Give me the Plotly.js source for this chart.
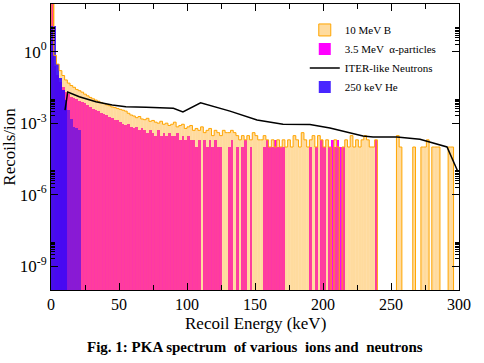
<!DOCTYPE html>
<html><head><meta charset="utf-8">
<script src="https://cdn.plot.ly/plotly-3.0.1.min.js"></script>
<style>html,body{margin:0;padding:0;background:#fff}#chart{width:484px;height:363px}</style>
</head><body><div id="chart"></div>
<script>
// Histogram bin width (keV); bins start at 0 keV
const binWidth = 2;

// 10 MeV B recoils per ion (bins 0-2, 2-4, ... 298-300 keV)
const boronValues = [
  300, 0.70, 0.30, 0.16, 0.10, 0.065, 0.048, 0.038, 0.032, 0.026,
  0.023, 0.020, 0.0165, 0.014, 0.012, 0.0105, 0.0093, 0.0083, 0.0074, 0.0066,
  0.0059, 0.0054, 0.0048, 0.0045, 0.0041, 0.0038, 0.0035, 0.0032, 0.0026, 0.0022,
  0.0020, 0.0017, 0.0019, 0.0015, 0.0014, 0.0016, 0.0012, 0.0013, 0.0011, 0.0010,
  0.0012, 0.0009, 0.0010, 0.0008, 0.0009, 0.0011, 0.0007, 0.0008, 0.0009, 0.0006,
  7e-4, 8e-4, 5e-4, 6e-4, 5e-4, 7e-4, 4e-4, 5e-4, 6e-4, 3e-4,
  5e-4, 4e-4, 3e-4, 5e-4, 4e-4, 4e-4, 5e-4, 4e-4, 3e-4, 2e-4,
  3e-4, 2e-4, 3e-4, 2e-4, 4e-4, 3e-4, 2e-4, 2e-4, 3e-4, 2e-4,
  1e-4, 2e-4, 1e-4, 2e-4, 1e-4, 2e-4, 1e-4, 2e-4, 1e-4, 3e-4,
  2e-4, 1e-4, 4e-4, 2e-4, 1e-4, 2e-4, 3e-4, 1e-4, 3e-4, 2e-4,
  1e-4, 2e-4, 1e-4, 0, 2e-4, 1e-4, 0, 1e-4, 2e-4, 1e-4,
  3e-4, 1e-4, 2e-4, 1e-4, 2e-4, 3e-4, 2e-4, 1e-4, 1e-4, 2e-4,
  0, 0, 0, 0, 0, 0, 0, 3e-4, 1e-4, 0,
  0, 0, 0, 1e-4, 0, 0, 1e-4, 1e-4, 2e-4, 0,
  1e-4, 1e-4, 1e-4, 0, 0, 0, 1e-4, 1e-4, 0, 0
];

// 3.5 MeV alpha-particle recoils per ion (bins 0-2 ... 238-240 keV)
const alphaValues = [
  200, 0.25, 0.11, 0.056, 0.032, 0.020, 0.016, 0.013, 0.011, 0.010,
  0.0089, 0.0079, 0.0068, 0.0056, 0.0048, 0.0040, 0.0035, 0.0032, 0.0028, 0.0025,
  0.0022, 0.0019, 0.0016, 0.0014, 0.0013, 0.0011, 9e-4, 8e-4, 9e-4, 7e-4,
  6e-4, 7e-4, 5e-4, 6e-4, 5e-4, 4e-4, 5e-4, 4e-4, 3e-4, 5e-4,
  3e-4, 4e-4, 3e-4, 4e-4, 3e-4, 3e-4, 4e-4, 2e-4, 3e-4, 2e-4,
  3e-4, 2e-4, 2e-4, 1e-4, 2e-4, 0, 2e-4, 1e-4, 2e-4, 1e-4,
  2e-4, 1e-4, 1e-4, 0, 0, 1e-4, 2e-4, 0, 1e-4, 0,
  1e-4, 2e-4, 0, 1e-4, 0, 0, 0, 0, 1e-4, 2e-4,
  1e-4, 1e-4, 2e-4, 1e-4, 1e-4, 1e-4, 0, 0, 0, 0,
  0, 0, 0, 0, 0, 1e-4, 0, 1e-4, 0, 2e-4,
  1e-4, 0, 1e-4, 2e-4, 1e-4, 2e-4, 1e-4, 1e-4, 0, 0,
  0, 0, 0, 0, 0, 0, 0, 0, 0, 2e-4
];

// 250 keV He recoils per ion (bins 0-2 ... 20-22 keV)
const heliumValues = [12, 12, 0.30, 0.08, 0.025, 0.009, 0.0035, 0.0015, 7e-4, 6e-4, 5e-4];

// ITER-like neutron PKA spectrum
const neutronEnergy = [10.3, 12.3, 20.8, 33, 45, 55, 70, 82, 90, 97, 110, 131.6, 151.5, 170.6, 190.4, 205.1, 229.4, 236.8, 254.4, 271.3, 278.7, 291.2, 299.3];
const neutronValues = [3.55e-3, 2.04e-2, 1.29e-2, 7.9e-3, 5.75e-3, 4.9e-3, 4.7e-3, 4.4e-3, 4.2e-3, 2.95e-3, 7.2e-3, 3.2e-3, 1.35e-3, 9.1e-4, 8.7e-4, 6.3e-4, 2.9e-4, 2.6e-4, 2.6e-4, 2.1e-4, 1.6e-4, 1.0e-4, 8.9e-6];

// Axis labels
const yTickVals = [1, 1e-3, 1e-6, 1e-9];
const yTickText = ['10<sup>0</sup>', '10<sup>-3</sup>', '10<sup>-6</sup>', '10<sup>-9</sup>'];
const xTitle = 'Recoil Energy (keV)';
const yTitle = 'Recoils/ion';
const caption = 'Fig. 1: PKA spectrum&nbsp; of various&nbsp; ions and&nbsp; neutrons';

const SERIF = 'Liberation Serif, serif';
const centers = arr => arr.map((_, i) => i * binWidth + binWidth / 2);
const FLOOR = 1e-12; // below the visible range, used only for the outline drop-lines

const bx = centers(boronValues);
const ax = centers(alphaValues);
const hx = centers(heliumValues);

// step outline of the B histogram
const stepX = boronValues.map((_, i) => i * binWidth).concat([boronValues.length * binWidth]);
const stepY = boronValues.map(v => v > 0 ? v : FLOOR);
stepY.push(stepY[stepY.length - 1]);

const traces = [
  { type: 'bar', name: '3.5 MeV  α-particles', x: ax, y: alphaValues, width: binWidth,
    marker: { color: '#ff00ff', line: { width: 0 } }, legendrank: 2, hoverinfo: 'skip' },
  { type: 'bar', name: '10 MeV B', x: bx, y: boronValues, width: binWidth,
    marker: { color: 'rgba(255,160,0,0.38)',
              line: { color: '#ffa500', width: boronValues.map((_, i) => i === 0 ? 1 : 0) } },
    legendrank: 1, hoverinfo: 'skip' },
  { type: 'scatter', mode: 'lines', x: stepX, y: stepY, line: { color: '#ffa500', width: 1, shape: 'hv' },
    showlegend: false, hoverinfo: 'skip' },
  { type: 'bar', name: '250 keV He', x: hx, y: heliumValues, width: binWidth,
    marker: { color: hx.map(e => e < 12 ? 'rgba(40,0,255,0.85)' : 'rgba(40,0,255,0.55)'),
              line: { color: '#2800ff', width: 0 } },
    legendrank: 4, hoverinfo: 'skip' },
  { type: 'scatter', mode: 'lines', name: 'ITER-like Neutrons', x: neutronEnergy, y: neutronValues,
    line: { color: '#000', width: 1.5 }, legendrank: 3, hoverinfo: 'skip' }
];

const minorY = [];
[0, -3, -6, -9].forEach(k => { for (let m = 2; m <= 10; m++) minorY.push(m * Math.pow(10, k)); });

const layout = {
  width: 484, height: 363,
  margin: { l: 51, r: 25, t: 4, b: 73 },
  paper_bgcolor: '#fff', plot_bgcolor: '#fff',
  barmode: 'overlay', bargap: 0,
  font: { family: SERIF, color: '#000', size: 17 },
  xaxis: {
    range: [0, 300], tickmode: 'linear', tick0: 0, dtick: 50,
    ticks: 'inside', ticklen: 7, tickcolor: '#000', tickwidth: 1,
    showline: true, linecolor: '#000', linewidth: 1, mirror: 'ticks',
    showgrid: false, zeroline: false,
    minor: { dtick: 25, ticks: 'inside', ticklen: 5, tickcolor: '#000', showgrid: false },
    tickfont: { family: SERIF, size: 16, color: '#000' }
  },
  yaxis: {
    type: 'log', range: [-10, 2], tickmode: 'array', tickvals: yTickVals, ticktext: yTickText,
    ticks: 'inside', ticklen: 7, tickcolor: '#000', tickwidth: 1,
    showline: true, linecolor: '#000', linewidth: 1, mirror: 'ticks',
    showgrid: false, zeroline: false,
    minor: { tickmode: 'array', tickvals: minorY, ticks: 'inside', ticklen: 4, tickcolor: '#000', showgrid: false },
    tickfont: { family: SERIF, size: 17, color: '#000' },
    title: { text: yTitle, font: { family: SERIF, size: 17, color: '#000' }, standoff: 4 }
  },
  showlegend: true,
  legend: { x: 0.622, y: 0.96, xanchor: 'left', yanchor: 'top', bgcolor: 'rgba(0,0,0,0)',
            font: { family: SERIF, size: 11, color: '#000' }, itemwidth: 30, tracegroupgap: 0, traceorder: 'normal' },
  annotations: [{
    xref: 'paper', yref: 'paper', x: 0.5, y: -0.118, xanchor: 'center', yanchor: 'middle',
    text: xTitle, showarrow: false, font: { family: SERIF, size: 17, color: '#000' }
  }, {
    xref: 'paper', yref: 'paper', x: 0.5, y: -0.198, xanchor: 'center', yanchor: 'middle',
    text: '<b>' + caption + '</b>', showarrow: false, font: { family: SERIF, size: 15, color: '#000' }
  }]
};

Plotly.newPlot('chart', traces, layout, { staticPlot: true, displayModeBar: false });
</script>
</body></html>
